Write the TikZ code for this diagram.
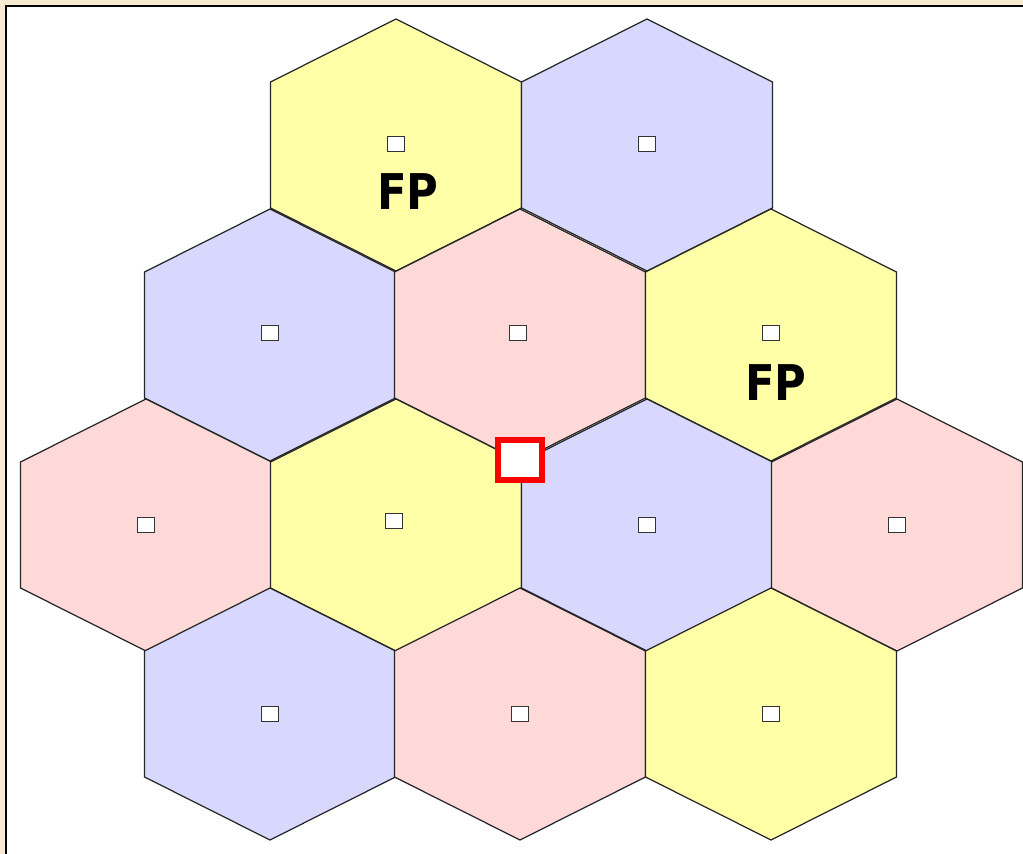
\documentclass[tikz,border=0pt]{standalone}
\usepackage{fontspec}
\setsansfont{DejaVu Sans}
\newfontfamily\fpfont[FakeStretch=0.88]{DejaVu Sans}
\usetikzlibrary{positioning}
\definecolor{cellyellow}{HTML}{FFFFA8}
\definecolor{cellblue}{HTML}{D8D8FF}
\definecolor{cellpink}{HTML}{FFD8D8}
\definecolor{paper}{HTML}{F7E9D2}
\tikzset{
  cell/.style={draw=black!85, line width=0.35pt},
  station/.style={draw=black!80, fill=white, line width=0.5pt,
    minimum width=0.17cm, minimum height=0.15cm, inner sep=0pt},
  fplabel/.style={font=\fpfont\bfseries\fontsize{14}{14}\selectfont},
  mobile/.style={draw=red, fill=white, line width=1.6pt,
    minimum width=0.44cm, minimum height=0.40cm, inner sep=0pt}
}

\begin{document}
\begin{tikzpicture}[x=0.01cm, y=-0.01cm]
    \useasboundingbox (0,0) rectangle (1023,854);
    % Frame
    \fill[paper] (0,0) rectangle (1023,854);
    \draw[fill=white, line width=0.6pt] (6,6) rectangle (1040,870);

    % Cells: centre x / centre y / colour
    \foreach \cx/\cy/\col in {396/145/cellyellow, 647/145/cellblue,
        270/335/cellblue, 520/335/cellpink, 771/335/cellyellow,
        146/525/cellpink, 396/525/cellyellow, 647/525/cellblue, 897/525/cellpink,
        270/714/cellblue, 520/714/cellpink, 771/714/cellyellow}
      \draw[cell, fill=\col] (\cx,\cy-126) -- (\cx+125.5,\cy-63)
        -- (\cx+125.5,\cy+63) -- (\cx,\cy+126) -- (\cx-125.5,\cy+63)
        -- (\cx-125.5,\cy-63) -- cycle;

    % Base stations
    \foreach \name/\sx/\sy in {st1/396/144, st2/647/144,
        st3/270/333, st4/518/333, st5/771/333,
        st6/146/525, st7/394/521, st8/647/525, st9/897/525,
        st10/270/714, st11/520/714, st12/771/714}
      \node[station] (\name) at (\sx,\sy) {};

    % Labels
    \node[fplabel] (fpA) at (408,192) {FP};
    \node[fplabel] (fpB) at (776,383) {FP};

    % Mobile at the cell corner
    \node[mobile] (mobile) at (520,460) {};
  \end{tikzpicture}
\end{document}
